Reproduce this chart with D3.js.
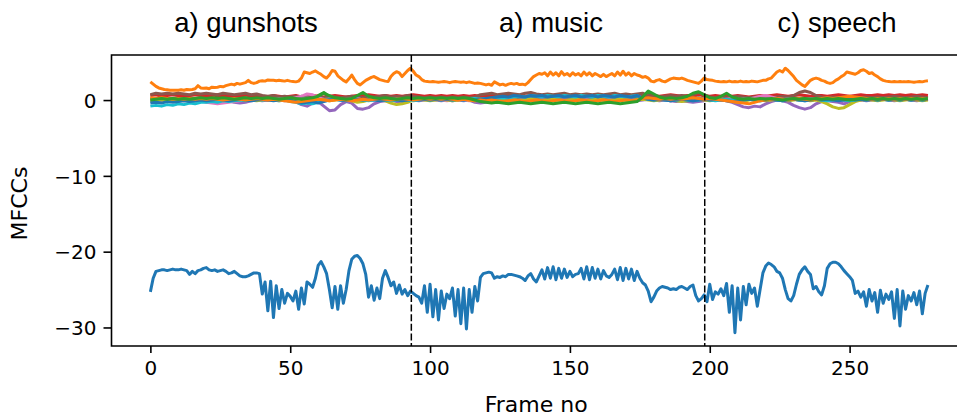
<!DOCTYPE html>
<html>
<head>
<meta charset="utf-8">
<script src="https://cdn.jsdelivr.net/npm/d3@7"></script>
<style>
  html, body { margin: 0; padding: 0; background: #fff; }
  svg { display: block; }
</style>
</head>
<body>
<svg id="chart" width="957" height="419"></svg>
<script>
// ---- data ---------------------------------------------------------------
// Segment captions and where the recording switches class (frame index)
const segmentTitles = ["a) gunshots", "a) music", "c) speech"];
const segmentBounds = [93.3, 198.2];

const xTicks = [0, 50, 100, 150, 200, 250];
const yTicks = [-30, -20, -10, 0];

// MFCC 0 and 1, one value per frame (frames 0..278)
const mfcc0 = [
  -25.3,-23.5,-22.6,-22.5,-22.4,-22.4,-22.5,-22.4,-22.3,-22.4,
  -22.4,-22.3,-22.4,-22.5,-23.0,-22.6,-22.9,-22.5,-22.4,-22.2,
  -22.1,-22.4,-22.5,-22.4,-22.6,-22.5,-22.4,-22.6,-22.9,-22.8,
  -22.6,-22.9,-23.2,-23.3,-23.3,-23.2,-23.0,-22.8,-22.8,-22.9,
  -25.6,-24.0,-27.8,-23.9,-28.7,-24.5,-27.5,-25.0,-26.8,-25.5,
  -25.9,-26.5,-25.2,-27.6,-24.8,-26.9,-24.0,-24.3,-24.7,-23.5,
  -21.8,-21.3,-22.0,-22.9,-25.0,-27.4,-24.6,-27.6,-24.5,-26.8,
  -25.0,-22.5,-21.0,-20.6,-20.5,-20.9,-21.6,-23.0,-26.0,-24.5,
  -26.4,-24.8,-26.2,-23.5,-22.5,-23.4,-24.5,-24.0,-25.5,-24.4,
  -25.6,-25.0,-25.8,-25.2,-25.5,-25.8,-26.0,-26.8,-24.5,-28.0,
  -24.3,-28.6,-25.0,-29.0,-25.2,-27.5,-25.6,-26.2,-24.8,-28.5,
  -25.0,-29.5,-24.8,-30.2,-25.0,-28.0,-24.6,-26.5,-23.4,-22.9,
  -22.8,-22.7,-22.8,-23.5,-23.3,-23.4,-23.2,-23.3,-23.0,-23.0,
  -23.1,-23.2,-23.3,-23.5,-23.8,-23.2,-22.9,-23.6,-24.0,-23.2,
  -22.4,-23.6,-22.1,-23.5,-22.0,-23.7,-22.2,-23.5,-22.3,-23.4,
  -22.6,-23.3,-23.0,-22.9,-22.2,-23.6,-22.0,-23.7,-22.1,-23.5,
  -22.3,-23.6,-22.5,-23.2,-23.4,-23.0,-22.3,-23.7,-22.1,-23.8,
  -22.2,-23.6,-22.3,-23.8,-22.6,-23.5,-24.1,-24.4,-25.2,-26.6,
  -26.0,-25.2,-24.8,-24.6,-24.7,-24.8,-25.0,-24.9,-25.0,-24.7,
  -24.6,-24.8,-25.0,-24.6,-24.4,-25.8,-26.5,-26.2,-25.7,-26.6,
  -24.3,-26.3,-25.3,-25.6,-24.9,-25.8,-24.2,-28.0,-24.5,-30.7,
  -24.8,-29.0,-24.6,-27.0,-24.3,-25.5,-24.8,-27.2,-25.0,-22.8,
  -21.9,-21.5,-21.7,-22.0,-22.6,-22.8,-23.5,-25.0,-26.2,-26.5,
  -25.8,-24.3,-23.0,-22.4,-22.0,-22.6,-23.0,-24.9,-24.6,-25.3,
  -25.7,-24.5,-22.2,-21.6,-21.4,-21.4,-21.6,-22.0,-22.5,-22.9,
  -23.3,-23.8,-25.5,-25.2,-26.0,-25.3,-27.2,-25.0,-26.5,-25.4,
  -28.0,-25.1,-26.8,-25.6,-26.3,-25.3,-28.8,-25.0,-29.8,-25.2,
  -27.6,-25.8,-26.5,-25.4,-27.0,-25.2,-28.2,-25.5,-24.4
];

const mfcc1 = [
  2.4,2.1,1.8,1.6,1.5,1.4,1.35,1.3,1.3,1.3,
  1.3,1.35,1.3,1.4,1.35,1.4,1.5,1.9,1.6,1.55,
  1.6,1.5,1.7,1.65,1.7,1.8,1.75,1.9,2.0,2.1,
  2.0,2.2,2.1,2.2,2.3,2.6,2.3,2.2,2.3,2.5,
  2.55,2.5,2.65,2.6,2.6,2.55,2.6,2.55,2.5,2.6,
  2.5,2.45,2.4,2.5,2.9,3.7,3.6,3.5,3.7,3.85,
  3.6,3.4,3.1,2.9,3.3,3.9,3.8,3.2,2.9,2.6,
  2.4,2.8,3.3,2.7,2.2,2.0,2.3,2.6,2.8,3.0,
  3.1,2.9,2.7,2.6,2.5,2.45,3.1,3.5,3.75,3.6,
  3.1,3.5,3.9,4.2,3.8,3.3,3.1,2.7,2.5,2.45,
  2.4,2.45,2.4,2.35,2.4,2.45,2.4,2.3,2.4,2.45,
  2.4,2.35,2.4,2.3,2.4,2.3,2.2,2.25,2.2,2.1,
  2.0,2.1,1.95,2.4,2.2,2.0,2.1,1.95,2.1,2.2,
  2.1,2.2,2.05,2.1,2.0,2.3,2.7,3.1,3.3,3.5,
  3.4,3.6,3.2,3.7,3.3,3.6,3.2,3.75,3.3,3.5,
  3.2,3.6,3.3,3.5,3.2,3.7,3.3,3.6,3.2,3.5,
  3.3,3.1,3.4,3.1,3.3,3.5,3.2,3.7,3.3,3.8,
  3.3,3.6,3.2,3.5,3.3,3.2,3.0,3.1,2.9,2.5,
  2.4,2.6,2.7,2.5,2.4,2.6,2.8,2.9,2.85,2.8,
  2.9,2.75,2.6,2.5,2.4,2.3,2.2,2.5,2.9,2.7,
  2.65,2.6,2.5,2.45,2.4,2.45,2.4,2.5,2.4,2.45,
  2.4,2.5,2.4,2.45,2.4,2.5,2.45,2.4,2.5,2.6,
  2.6,2.8,2.9,3.3,3.7,3.9,3.7,4.2,3.9,3.5,
  3.1,2.6,2.3,2.0,1.8,2.2,2.6,2.8,2.9,2.8,
  2.6,2.5,2.3,2.2,2.3,2.6,2.8,3.1,3.3,3.7,
  3.6,3.5,3.4,3.6,3.9,4.0,3.8,3.5,3.6,3.3,
  3.1,2.8,2.6,2.5,2.45,2.4,2.45,2.4,2.45,2.4,
  2.4,2.45,2.4,2.35,2.4,2.45,2.4,2.5,2.55
];

// MFCC 2..12, sampled every second frame (frames 0, 2, ..., 278)
const mfcc2 = [
  0.1,0.2,0.1,0.2,0.2,0.3,0.2,0.3,0.2,0.3,
  0.3,0.2,0.4,0.3,0.2,0.3,0.4,0.3,0.2,0.3,
  0.2,0.3,0.2,0.1,0.3,0.4,0.2,0.5,0.3,0.2,
  0.6,1.0,0.4,0.1,0.2,0.3,0.2,0.5,0.9,0.4,
  0.2,0.3,0.1,0.2,0.3,0.2,0.3,0.2,0.3,0.2,
  0.3,0.2,0.3,0.2,0.3,0.4,0.3,0.2,0.3,0.4,
  0.3,0.4,0.3,0.2,0.3,0.4,0.3,0.2,0.3,0.3,
  0.4,0.3,0.2,0.3,0.4,0.3,0.3,0.2,0.3,0.4,
  0.3,0.2,0.3,0.4,0.3,0.2,0.3,0.4,0.6,0.9,
  0.5,0.3,0.2,0.3,0.2,0.3,0.4,0.6,0.9,0.5,
  0.3,0.2,0.4,0.3,0.2,0.3,0.4,0.3,0.2,0.3,
  0.2,0.3,0.2,0.3,0.4,0.3,0.2,0.3,0.2,0.3,
  0.2,0.3,0.4,0.3,0.2,0.3,0.2,0.3,0.2,0.3,
  0.3,0.2,0.3,0.2,0.3,0.2,0.3,0.2,0.3,0.2
];
const mfcc3 = [
  0.6,0.7,0.5,0.6,0.7,0.6,0.5,0.6,0.7,0.6,
  0.5,0.6,0.7,0.5,0.6,0.5,0.6,0.7,0.5,0.6,
  0.5,0.4,0.6,0.5,0.4,0.5,0.6,0.4,0.5,0.6,
  0.5,0.4,0.5,0.6,0.5,0.4,0.5,0.6,0.5,0.7,
  0.6,0.5,0.6,0.5,0.6,0.5,0.6,0.7,0.6,0.5,
  0.6,0.5,0.6,0.5,0.6,0.5,0.6,0.5,0.6,0.5,
  0.6,0.7,0.6,0.5,0.6,0.7,0.6,0.5,0.6,0.5,
  0.6,0.5,0.6,0.7,0.6,0.5,0.6,0.5,0.6,0.5,
  0.6,0.5,0.6,0.5,0.6,0.5,0.6,0.7,0.6,0.5,
  0.6,0.5,0.6,0.7,0.6,0.5,0.6,0.5,0.7,0.6,
  0.5,0.6,0.5,0.6,0.5,0.6,0.5,0.4,0.5,0.6,
  0.5,0.6,0.7,0.6,0.5,0.6,0.7,0.6,0.5,0.6,
  0.6,0.5,0.6,0.7,0.6,0.5,0.6,0.7,0.6,0.6,
  0.7,0.6,0.7,0.6,0.7,0.6,0.7,0.6,0.7,0.6
];
const mfcc4 = [
  -0.2,-0.1,0.0,-0.1,0.0,-0.1,0.0,0.1,0.0,-0.1,
  0.0,-0.1,-0.2,0.0,-0.1,-0.3,-0.4,-0.3,-0.1,0.0,
  -0.1,0.0,0.1,0.0,-0.1,0.0,-0.2,-0.6,-0.8,-0.4,
  -0.2,-0.8,-1.4,-1.3,-0.6,-0.2,-0.4,-1.1,-1.2,-1.0,
  -0.5,-0.2,-0.1,0.0,-0.2,-0.3,-0.1,0.0,-0.1,0.0,
  0.1,0.0,-0.1,0.0,-0.1,0.0,-0.1,0.0,-0.3,-0.4,
  -0.3,-0.2,-0.1,-0.3,-0.4,-0.2,-0.1,0.0,-0.1,-0.2,
  0.0,-0.1,0.0,0.1,0.0,-0.1,0.0,0.1,0.0,-0.1,
  0.0,0.1,0.0,-0.1,0.0,0.1,0.0,-0.1,0.0,0.1,
  0.0,-0.1,0.0,-0.1,-0.2,-0.1,-0.2,-0.3,-0.2,-0.1,
  0.0,0.1,0.0,-0.1,-0.3,-0.6,-0.9,-1.0,-0.8,-0.9,
  -0.5,-0.2,0.0,-0.1,-0.3,-0.7,-1.0,-1.2,-1.0,-0.5,
  -0.2,-0.1,-0.2,-0.3,-0.5,-0.2,-0.1,0.0,-0.1,0.0,
  0.0,0.1,0.0,-0.1,0.0,0.1,0.0,-0.1,0.0,0.1
];
const mfcc5 = [
  0.7,0.9,0.8,0.9,0.8,0.9,0.8,0.7,0.9,0.8,
  0.9,0.8,0.7,0.9,0.8,0.7,0.8,0.9,0.7,0.8,
  0.6,0.5,0.6,0.4,0.5,0.4,0.5,0.3,0.4,0.5,
  0.4,0.3,0.5,0.4,0.3,0.4,0.5,0.4,0.3,0.4,
  0.4,0.5,0.6,0.4,0.5,0.4,0.6,0.5,0.4,0.3,
  0.4,0.3,0.4,0.3,0.4,0.3,0.4,0.3,0.4,0.7,
  0.8,0.9,0.7,0.8,0.9,0.8,0.7,0.9,1.0,0.8,
  0.7,0.8,0.7,0.8,0.9,0.7,0.8,0.7,0.8,0.7,
  0.8,0.7,0.8,0.9,0.7,0.8,0.7,0.8,0.9,0.6,
  0.5,0.4,0.5,0.6,0.5,0.6,0.5,0.7,1.0,0.7,
  0.4,0.3,0.4,0.3,0.4,0.5,0.4,0.3,0.4,0.3,
  0.4,0.3,0.4,0.5,0.4,0.6,1.0,1.2,1.0,0.6,
  0.4,0.3,0.4,0.3,0.4,0.3,0.4,0.3,0.4,0.3,
  0.4,0.3,0.4,0.5,0.4,0.3,0.4,0.5,0.4,0.3
];
const mfcc6 = [
  0.1,0.0,-0.1,0.0,0.1,0.0,-0.1,0.0,-0.2,-0.1,
  -0.3,-0.4,-0.5,-0.4,-0.3,-0.2,-0.1,0.0,0.1,0.0,
  0.1,0.0,0.1,0.0,0.2,0.1,0.3,0.5,0.8,0.7,
  0.3,0.1,0.0,0.2,0.1,0.0,0.1,0.2,0.0,0.1,
  0.2,0.1,0.0,0.1,0.0,-0.1,0.0,0.1,0.0,0.1,
  0.0,0.1,0.0,-0.1,0.0,0.1,0.0,-0.1,0.0,0.1,
  0.0,-0.1,0.0,0.1,0.0,-0.1,0.0,0.1,0.0,0.1,
  0.2,0.1,0.0,0.1,0.2,0.1,0.0,0.1,0.2,0.1,
  0.0,0.1,0.2,0.1,0.0,0.1,0.0,0.1,0.2,0.1,
  0.0,0.1,0.0,-0.1,0.0,0.1,0.0,0.1,0.2,0.1,
  0.0,0.1,0.0,0.1,0.2,0.1,0.0,0.1,0.3,0.5,
  0.6,0.4,0.2,0.1,0.0,0.1,0.0,0.1,0.2,0.1,
  0.0,0.1,0.0,0.1,0.0,0.1,0.2,0.1,0.0,0.1,
  0.0,0.1,0.2,0.1,0.0,0.1,0.0,0.1,0.2,0.1
];
const mfcc7 = [
  0.2,0.1,0.2,0.1,0.0,0.1,0.2,0.1,0.0,0.1,
  0.1,0.2,0.1,0.0,0.1,0.2,0.1,0.0,0.1,0.2,
  0.1,0.0,0.1,0.2,0.1,0.0,0.1,0.2,0.3,0.1,
  0.0,0.1,0.2,0.1,0.0,0.1,0.2,0.1,0.0,0.1,
  0.2,0.1,0.0,0.1,0.2,0.1,0.0,0.1,0.2,0.1,
  0.0,0.1,0.2,0.1,0.0,0.1,0.2,0.1,0.0,0.1,
  0.2,0.1,0.0,0.1,0.2,0.1,0.0,0.1,0.2,0.1,
  0.0,0.1,0.2,0.1,0.0,0.1,0.2,0.1,0.0,0.1,
  0.2,0.1,0.0,0.1,0.2,0.1,0.0,0.1,0.2,0.1,
  0.0,0.1,0.2,0.1,0.0,0.1,0.2,0.1,0.3,0.1,
  0.0,0.1,0.2,0.1,0.0,0.1,0.2,0.1,0.0,0.1,
  0.2,0.1,0.0,0.1,0.2,0.1,0.0,0.1,0.2,0.1,
  0.0,0.1,0.2,0.1,0.0,0.1,0.2,0.1,0.0,0.1,
  0.2,0.1,0.0,0.1,0.2,0.1,0.0,0.1,0.2,0.1
];
const mfcc8 = [
  0.0,0.1,0.0,-0.1,0.0,0.1,0.0,-0.1,0.0,0.1,
  0.0,-0.1,0.0,0.1,0.0,-0.1,0.0,0.1,0.0,-0.1,
  0.0,0.1,0.0,-0.1,0.0,0.1,-0.2,-0.4,-0.2,0.0,
  0.1,0.0,-0.1,0.0,0.1,0.0,-0.1,-0.3,-0.2,0.0,
  0.1,0.0,-0.1,-0.4,-0.6,-0.5,-0.3,0.0,0.1,0.0,
  -0.1,0.0,0.1,0.0,-0.1,0.0,0.1,0.0,-0.1,0.0,
  0.1,0.0,-0.1,0.0,0.1,0.0,-0.1,0.0,0.1,0.0,
  -0.1,0.0,0.1,0.0,-0.1,0.0,0.1,0.0,-0.1,0.0,
  0.1,0.0,-0.1,0.0,0.1,0.0,-0.1,0.0,0.1,0.0,
  -0.1,0.0,0.1,0.0,-0.1,-0.2,-0.1,0.0,0.1,0.0,
  -0.1,0.0,0.1,0.0,-0.2,-0.3,-0.2,0.0,0.1,0.0,
  -0.1,0.0,0.1,0.0,-0.1,0.0,0.1,0.0,-0.1,0.0,
  -0.2,-0.5,-0.9,-1.1,-1.0,-0.6,-0.2,0.0,0.1,0.0,
  -0.1,0.0,0.1,0.0,-0.1,0.0,0.1,0.0,-0.1,0.0
];
const mfcc9 = [
  -0.8,-0.7,-0.8,-0.6,-0.7,-0.5,-0.6,-0.4,-0.5,-0.3,
  -0.3,-0.2,-0.3,-0.1,-0.2,-0.1,0.0,-0.1,0.0,0.1,
  0.0,0.1,0.0,-0.1,0.0,-0.2,-0.3,-0.5,-0.4,-0.5,
  -0.3,-0.1,0.0,0.1,0.0,-0.1,0.0,0.1,0.0,-0.1,
  0.0,0.1,0.0,-0.1,0.0,0.1,0.0,-0.1,0.0,0.1,
  0.0,0.1,0.0,0.1,0.0,0.1,0.0,0.1,0.2,0.1,
  0.2,0.1,0.2,0.3,0.2,0.4,0.5,0.4,0.6,0.5,
  0.4,0.6,0.5,0.4,0.6,0.5,0.4,0.6,0.5,0.4,
  0.6,0.5,0.4,0.6,0.5,0.4,0.5,0.6,0.3,0.1,
  0.0,0.1,0.0,-0.1,0.0,0.1,0.0,-0.1,0.0,0.1,
  0.0,-0.1,0.0,0.1,0.0,-0.1,0.0,0.1,0.0,-0.1,
  0.0,0.1,0.0,-0.1,0.0,0.1,0.0,-0.1,0.0,0.1,
  0.0,-0.1,0.0,0.1,0.0,-0.1,0.0,0.1,0.0,0.1,
  0.0,0.1,0.0,0.1,0.0,0.1,0.0,0.1,0.0,0.1
];
const mfcc10 = [
  -0.4,-0.3,-0.4,-0.2,-0.3,-0.2,-0.1,-0.2,-0.1,0.0,
  -0.1,0.0,0.1,0.0,-0.1,0.0,0.1,0.0,-0.1,0.0,
  0.1,0.0,-0.1,0.0,0.1,0.0,-0.2,-0.4,-0.3,-0.2,
  -0.4,-0.2,0.0,0.1,0.0,-0.1,0.0,0.1,0.0,0.1,
  0.0,-0.1,0.0,0.1,0.0,-0.1,0.0,0.1,0.0,0.1,
  0.0,0.1,0.0,0.1,0.0,0.1,0.0,0.1,0.0,0.1,
  0.2,0.3,0.4,0.5,0.4,0.6,0.5,0.4,0.6,0.5,
  0.6,0.4,0.5,0.6,0.4,0.5,0.6,0.4,0.5,0.6,
  0.4,0.6,0.5,0.4,0.6,0.5,0.4,0.6,0.3,0.1,
  0.0,0.1,0.0,-0.1,0.0,0.1,0.0,-0.1,0.0,0.1,
  0.0,0.1,0.0,-0.1,-0.2,-0.1,0.0,0.1,0.0,-0.1,
  0.0,0.1,0.0,-0.1,0.0,0.1,0.0,-0.1,0.0,0.1,
  0.0,0.1,0.0,-0.1,0.0,0.1,0.0,0.1,0.0,0.1,
  0.0,0.1,0.0,0.1,0.0,0.1,0.0,0.1,0.0,0.1
];
const mfcc11 = [
  0.3,0.2,0.3,0.2,0.1,0.2,0.1,0.2,0.1,0.2,
  0.1,0.2,0.1,0.0,0.1,0.2,0.1,0.0,0.1,0.2,
  0.1,0.0,0.1,0.0,-0.1,-0.2,-0.3,-0.2,-0.1,0.0,
  0.1,0.0,-0.1,0.0,0.1,0.0,-0.1,0.0,0.1,0.0,
  0.1,0.2,0.1,0.0,0.1,0.2,0.1,0.0,0.1,0.2,
  0.1,0.2,0.1,0.2,0.1,0.0,0.1,0.0,-0.1,0.0,
  -0.1,0.0,-0.1,-0.2,-0.1,0.0,-0.1,-0.2,-0.1,0.0,
  -0.1,-0.2,-0.1,0.0,-0.1,-0.2,-0.1,0.0,-0.1,-0.2,
  -0.1,0.0,-0.1,-0.2,-0.1,0.0,-0.1,0.0,0.2,0.3,
  0.2,0.1,0.2,0.1,0.2,0.1,0.2,0.3,0.2,0.1,
  0.2,0.1,0.0,-0.1,-0.2,-0.3,-0.4,-0.5,-0.3,-0.1,
  0.0,0.1,0.2,0.1,0.0,0.1,0.2,0.1,0.0,0.1,
  0.2,0.3,0.2,0.3,0.4,0.5,0.4,0.3,0.2,0.1,
  0.2,0.1,0.2,0.1,0.2,0.1,0.2,0.1,0.2,0.1
];
const mfcc12 = [
  0.0,0.1,0.2,0.1,0.2,0.1,0.2,0.1,0.2,0.3,
  0.2,0.3,0.2,0.3,0.2,0.1,0.2,0.3,0.2,0.3,
  0.2,0.3,0.2,0.1,0.2,0.3,0.2,0.1,0.2,0.3,
  0.5,0.9,0.6,0.3,0.2,0.1,0.2,0.6,1.0,0.5,
  0.3,0.2,0.3,0.2,0.1,0.2,0.3,0.2,0.3,0.2,
  0.3,0.2,0.3,0.2,0.3,0.2,0.3,0.2,0.0,-0.2,
  -0.3,-0.4,-0.3,-0.4,-0.5,-0.4,-0.3,-0.4,-0.5,-0.4,
  -0.3,-0.4,-0.5,-0.4,-0.3,-0.4,-0.5,-0.4,-0.3,-0.4,
  -0.5,-0.4,-0.3,-0.4,-0.5,-0.4,-0.3,-0.2,0.4,1.2,
  0.8,0.4,0.2,0.3,0.2,0.3,0.5,0.9,1.1,0.7,
  0.3,0.2,0.5,0.9,0.4,0.2,0.1,0.2,0.1,0.2,
  0.1,0.2,0.1,0.0,0.1,0.2,0.1,0.2,0.1,0.2,
  0.1,0.2,0.1,0.2,0.1,0.0,0.1,0.2,0.1,0.2,
  0.1,0.2,0.1,0.2,0.1,0.2,0.1,0.2,0.1,0.2
];

// matplotlib "tab10" cycle, repeated for coefficients 10..12
const palette = ["#1f77b4","#ff7f0e","#2ca02c","#d62728","#9467bd",
                 "#8c564b","#e377c2","#7f7f7f","#bcbd22","#17becf"];

// ---- layout -------------------------------------------------------------
const svg = d3.select("#chart");
const plot = { left: 111.5, right: 966.8, top: 55, bottom: 346 };

const fullStep = 1, halfStep = 2;
const coeffs = [
  { values: mfcc0, step: fullStep }, { values: mfcc1, step: fullStep },
  { values: mfcc2, step: halfStep }, { values: mfcc3, step: halfStep },
  { values: mfcc4, step: halfStep }, { values: mfcc5, step: halfStep },
  { values: mfcc6, step: halfStep }, { values: mfcc7, step: halfStep },
  { values: mfcc8, step: halfStep }, { values: mfcc9, step: halfStep },
  { values: mfcc10, step: halfStep }, { values: mfcc11, step: halfStep },
  { values: mfcc12, step: halfStep }
].map((c, i) => ({
  color: palette[i % palette.length],
  points: c.values.map((v, k) => [k * c.step, v])
}));

// axis limits with a 5% margin around the data
const allPts = coeffs.flatMap(c => c.points);
const [xMin, xMax] = d3.extent(allPts, p => p[0]);
const [yMin, yMax] = d3.extent(allPts, p => p[1]);
const xPad = (xMax - xMin) * 0.05, yPad = (yMax - yMin) * 0.05;

const x = d3.scaleLinear().domain([xMin - xPad, xMax + xPad]).range([plot.left, plot.right]);
const y = d3.scaleLinear().domain([yMin - yPad, yMax + yPad]).range([plot.bottom, plot.top]);

svg.append("defs").append("clipPath").attr("id", "plotArea")
  .append("rect")
  .attr("x", plot.left).attr("y", plot.top)
  .attr("width", plot.right - plot.left).attr("height", plot.bottom - plot.top);

// ---- series ---------------------------------------------------------------
const line = d3.line().x(p => x(p[0])).y(p => y(p[1]));
const lines = svg.append("g").attr("clip-path", "url(#plotArea)");
lines.selectAll("path.coeff")
  .data(coeffs)
  .join("path")
  .attr("class", "coeff")
  .attr("d", c => line(c.points))
  .attr("fill", "none")
  .attr("stroke", c => c.color)
  .attr("stroke-width", 3)
  .attr("stroke-linejoin", "round");

// segment boundaries
lines.selectAll("line.bound")
  .data(segmentBounds)
  .join("line")
  .attr("class", "bound")
  .attr("x1", d => x(d)).attr("x2", d => x(d))
  .attr("y1", plot.top).attr("y2", plot.bottom)
  .attr("stroke", "#000")
  .attr("stroke-width", 1.5)
  .attr("stroke-dasharray", "7,2.6");

// ---- axes -----------------------------------------------------------------
const tickFont = "'DejaVu Sans', sans-serif";

const xAxis = svg.append("g")
  .attr("transform", `translate(0,${plot.bottom})`)
  .call(d3.axisBottom(x).tickValues(xTicks).tickSize(7).tickPadding(7).tickFormat(d3.format("d")));
const yAxis = svg.append("g")
  .attr("transform", `translate(${plot.left},0)`)
  .call(d3.axisLeft(y).tickValues(yTicks).tickSize(8).tickPadding(7).tickFormat(d3.format("d")));

[xAxis, yAxis].forEach(g => {
  g.select(".domain").remove();
  g.selectAll(".tick line").attr("stroke", "#000").attr("stroke-width", 1.6);
  g.selectAll(".tick text")
    .attr("fill", "#000")
    .style("font-family", tickFont)
    .style("font-size", "20px");
});
xAxis.selectAll(".tick text").attr("dy", null).attr("y", 29);
yAxis.selectAll(".tick text").attr("dy", "0.36em");

// spines (right edge falls beyond the canvas)
svg.append("path")
  .attr("d", `M${plot.right},${plot.top}H${plot.left}V${plot.bottom}H${plot.right}`)
  .attr("fill", "none")
  .attr("stroke", "#000")
  .attr("stroke-width", 1.6);

// axis labels
svg.append("text")
  .attr("x", (plot.left + plot.right) / 2 - 3).attr("y", 412)
  .attr("text-anchor", "middle")
  .style("font-family", tickFont).style("font-size", "22px")
  .text("Frame no");

svg.append("text")
  .attr("transform", `translate(27,${(plot.top + plot.bottom) / 2 + 3}) rotate(-90)`)
  .attr("text-anchor", "middle")
  .style("font-family", tickFont).style("font-size", "22px")
  .text("MFCCs");

// segment captions above the plot
const titleX = [246, 551, 837];
svg.selectAll("text.segTitle")
  .data(segmentTitles)
  .join("text")
  .attr("class", "segTitle")
  .attr("x", (d, i) => titleX[i])
  .attr("y", 32)
  .attr("text-anchor", "middle")
  .style("font-family", "'Liberation Sans', Arial, sans-serif")
  .style("font-size", "27.5px")
  .attr("fill", "#000")
  .text(d => d);
</script>
</body>
</html>
